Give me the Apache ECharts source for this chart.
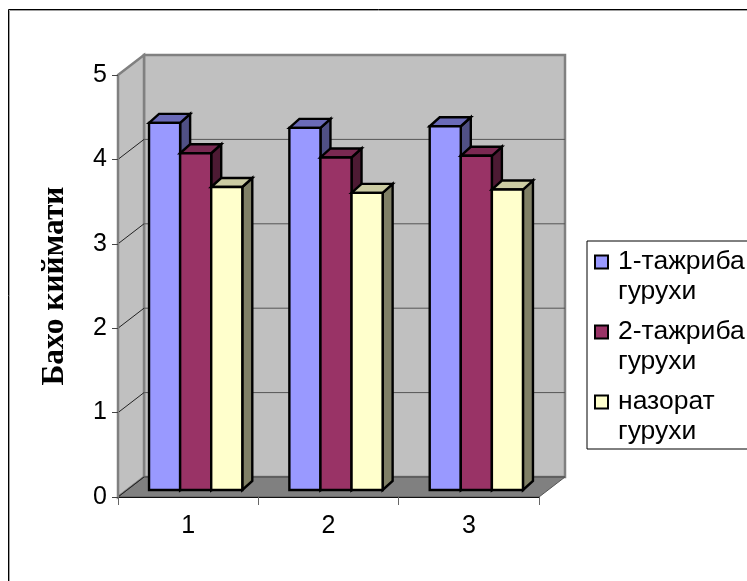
<!DOCTYPE html>
<html>
<head>
<meta charset="utf-8">
<style>html,body{margin:0;padding:0;background:#fff}#main{width:747px;height:581px}</style>
<script src="https://cdn.jsdelivr.net/npm/echarts@6/dist/echarts.min.js"></script>
</head>
<body>
<div id="main"></div>
<script>
// Values of the three groups across the three measurements
const categories = ['1', '2', '3'];
const firstGroup = [4.35, 4.29, 4.31];
const secondGroup = [3.99, 3.94, 3.96];
const controlGroup = [3.59, 3.52, 3.56];
const seriesNames = ['1-тажриба\nгурухи', '2-тажриба\nгурухи', 'назорат\nгурухи'];
const valueTicks = [0, 1, 2, 3, 4, 5];
const axisTitle = 'Бахо киймати';

// Oblique projection used for the walls and the columns
const WALL_DX = 26, WALL_DY = -20;
const BAR_SHIFT_X = 7.5, BAR_SHIFT_Y = -7;
const BAR_DX = 10, BAR_DY = -9;
const BAR_RATIO = 0.2215;

const palettes = [
  { front: '#9999ff', top: '#6a6ab8', side: '#505085' },
  { front: '#993366', top: '#7a2952', side: '#4d1a33' },
  { front: '#ffffcc', top: '#cccca3', side: '#808066' }
];

function face(points, fill) {
  return {
    type: 'polygon',
    shape: { points: points },
    style: { fill: fill, stroke: '#000', lineWidth: 2.4, lineJoin: 'miter' }
  };
}

// One extruded column per data item
function columnRenderer(slot) {
  return function (params, api) {
    const base = api.coord([api.value(0), 0]);
    const head = api.coord([api.value(0), api.value(1)]);
    const w = api.size([1, 0])[0] * BAR_RATIO;
    const x0 = base[0] + BAR_SHIFT_X + (slot - 1.5) * w;
    const x1 = x0 + w;
    const yb = base[1] + BAR_SHIFT_Y;
    const yt = head[1] + BAR_SHIFT_Y;
    const c = palettes[slot];
    return {
      type: 'group',
      children: [
        face([[x1, yb], [x1 + BAR_DX, yb + BAR_DY], [x1 + BAR_DX, yt + BAR_DY], [x1, yt]], c.side),
        face([[x0, yt], [x0 + BAR_DX, yt + BAR_DY], [x1 + BAR_DX, yt + BAR_DY], [x1, yt]], c.top),
        face([[x0, yb], [x1, yb], [x1, yt], [x0, yt]], c.front)
      ]
    };
  };
}

// Back wall, side wall and floor, with one pair of gridlines per tick
function wallRenderer(params, api) {
  const sys = params.coordSys;
  const left = sys.x, right = sys.x + sys.width;
  const level = api.value(1);
  const topLevel = valueTicks[valueTicks.length - 1];
  const y = api.coord([0, level])[1];
  const bottom = sys.y + sys.height, top = sys.y;
  const children = [];
  if (params.dataIndex === 0) {
    children.push({
      type: 'polygon',
      shape: { points: [[left + WALL_DX, top + WALL_DY], [right + WALL_DX, top + WALL_DY], [right + WALL_DX, bottom + WALL_DY], [left + WALL_DX, bottom + WALL_DY]] },
      style: { fill: '#c0c0c0', stroke: '#808080', lineWidth: 2.5 }
    }, {
      type: 'polygon',
      shape: { points: [[left, top], [left + WALL_DX, top + WALL_DY], [left + WALL_DX, bottom + WALL_DY], [left, bottom]] },
      style: { fill: '#c0c0c0', stroke: '#808080', lineWidth: 2.5 }
    }, {
      type: 'polygon',
      shape: { points: [[left, bottom], [left + WALL_DX, bottom + WALL_DY], [right + WALL_DX, bottom + WALL_DY], [right, bottom]] },
      style: { fill: '#808080', stroke: '#555', lineWidth: 1 }
    });
  }
  if (level < topLevel) {
    children.push({
      type: 'line',
      shape: { x1: left + WALL_DX, y1: y + WALL_DY, x2: right + WALL_DX, y2: y + WALL_DY },
      style: { stroke: '#555', lineWidth: 1 }
    });
  }
  children.push({
    type: 'line',
    shape: { x1: left, y1: y, x2: left + WALL_DX, y2: y + WALL_DY },
    style: { stroke: level === topLevel ? '#808080' : '#222', lineWidth: 1 }
  });
  return { type: 'group', children: children };
}

const chart = echarts.init(document.getElementById('main'), null, { renderer: 'canvas' });
const valueRows = [firstGroup, secondGroup, controlGroup];

chart.setOption({
  animation: false,
  backgroundColor: '#ffffff',
  grid: { left: 118, right: 208, top: 75, bottom: 84 },
  xAxis: {
    type: 'category',
    data: categories,
    axisLine: { show: true, lineStyle: { color: '#111', width: 1 } },
    axisTick: { show: true, length: 8, alignWithLabel: false, lineStyle: { color: '#666', width: 1 } },
    axisLabel: { color: '#000', fontFamily: 'Liberation Sans', fontSize: 25, margin: 17 },
    splitLine: { show: false }
  },
  yAxis: {
    type: 'value',
    min: 0,
    max: 5,
    interval: 1,
    name: axisTitle,
    nameLocation: 'middle',
    nameRotate: 90,
    nameGap: 47,
    nameTextStyle: { color: '#000', fontFamily: 'Liberation Serif', fontWeight: 'bold', fontSize: 31.5 },
    axisLine: { show: true, lineStyle: { color: '#808080', width: 2 } },
    axisTick: { show: true, length: 6, lineStyle: { color: '#444', width: 1 } },
    axisLabel: { color: '#000', fontFamily: 'Liberation Sans', fontSize: 25, margin: 11 },
    splitLine: { show: false }
  },
  legend: {
    left: 594,
    top: 217,
    orient: 'vertical',
    padding: 0,
    itemGap: -20,
    itemWidth: 23,
    itemHeight: 13,
    icon: 'path://M0,0H13V13H0Z',
    selectedMode: false,
    // The blank first line puts each swatch level with the first row of its label
    formatter: function (name) { return '\n' + name; },
    data: seriesNames.map(function (n, i) {
      return { name: n, itemStyle: { color: palettes[i].front, borderColor: '#000', borderWidth: 2 } };
    }),
    textStyle: { color: '#000', fontFamily: 'Liberation Sans', fontSize: 26.5, lineHeight: 30 }
  },
  graphic: [
    { type: 'rect', silent: true, shape: { x: 9.5, y: 10.5, width: 800, height: 700 }, style: { fill: 'none', stroke: '#a0a0a0', lineWidth: 1 } },
    { type: 'rect', silent: true, shape: { x: 8.5, y: 9.5, width: 800, height: 700 }, style: { fill: 'none', stroke: '#000', lineWidth: 1 } },
    { type: 'rect', silent: true, shape: { x: 587, y: 241, width: 200, height: 208 }, style: { fill: '#fff', stroke: '#000', lineWidth: 1 }, z: -1 }
  ],
  series: [
    {
      type: 'custom',
      name: 'walls',
      silent: true,
      z: 0,
      renderItem: wallRenderer,
      encode: { x: 0, y: 1 },
      data: valueTicks.map(function (t) { return [0, t]; })
    }
  ].concat(seriesNames.map(function (n, slot) {
    return {
      type: 'custom',
      name: n,
      silent: true,
      z: 3,
      renderItem: columnRenderer(slot),
      encode: { x: 0, y: 1 },
      itemStyle: { color: palettes[slot].front },
      data: valueRows[slot].map(function (v, i) { return [i, v]; })
    };
  }))
});
</script>
</body>
</html>
